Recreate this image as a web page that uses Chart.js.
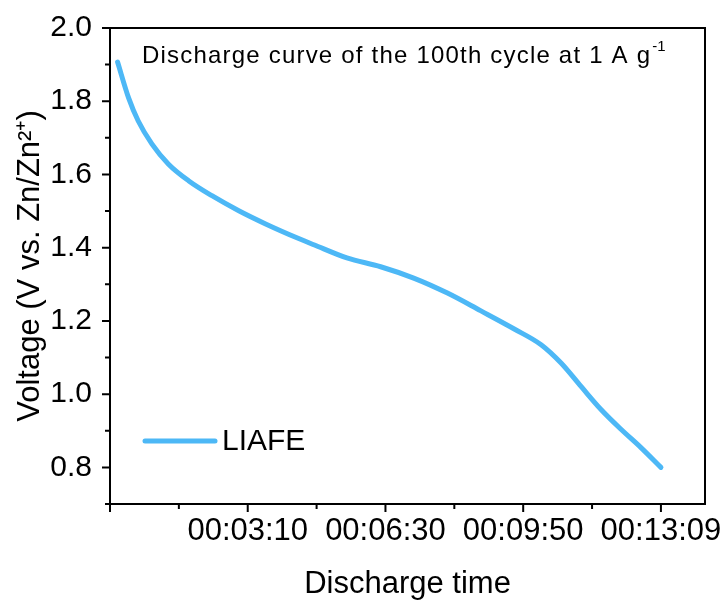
<!DOCTYPE html>
<html lang="en">
<head>
<meta charset="UTF-8">
<title>Discharge curve</title>
<script src="https://cdn.jsdelivr.net/npm/chart.js"></script>
<style>
  html, body { margin: 0; padding: 0; background: #fff; }
  #wrap { width: 723px; height: 600px; }
</style>
</head>
<body>
<div id="wrap"><canvas id="grafico"></canvas></div>
<script>
// values (time in seconds, voltage in V)
const times = [1, 17, 31, 51, 75, 104, 138, 177, 216, 264, 286, 334, 383, 431, 480, 528, 577, 616, 645, 674, 703, 732, 761, 790];
const voltages = [1.907, 1.809, 1.746, 1.683, 1.628, 1.583, 1.542, 1.501, 1.465, 1.425, 1.408, 1.372, 1.348, 1.317, 1.276, 1.228, 1.178, 1.135, 1.085, 1.021, 0.958, 0.904, 0.854, 0.800];
const xTickValues = [-10, 190, 390, 590, 790];
const xTickLabels = ['', '00:03:10', '00:06:30', '00:09:50', '00:13:09'];
const yTickValues = [0.8, 1.0, 1.2, 1.4, 1.6, 1.8, 2.0];
const seriesName = 'LIAFE';
const titleMain = 'Discharge curve of the 100th cycle at 1 A g';
const titleSup = '-1';

const lineColor = '#4db8f6';
const fontFam = "'Liberation Sans', Arial, sans-serif";
Chart.defaults.font.family = fontFam;
Chart.defaults.color = '#000';

// frame, tick marks (major + minor), inner title and legend
const decor = {
    id: 'decor',
    afterDraw(chart) {
        const ctx = chart.ctx;
        const a = chart.chartArea;
        const xs = chart.scales.x, ys = chart.scales.y;
        ctx.save();
        ctx.strokeStyle = '#000';
        ctx.lineWidth = 2;
        ctx.strokeRect(a.left, a.top, a.right - a.left, a.bottom - a.top);

        // x ticks
        ctx.beginPath();
        for (let i = 0; i < xTickValues.length; i++) {
            const px = xs.getPixelForValue(xTickValues[i]);
            ctx.moveTo(px, a.bottom); ctx.lineTo(px, a.bottom + 8);
            const mid = xTickValues[i] + 100;
            if (mid < xs.max) {
                const pm = xs.getPixelForValue(mid);
                ctx.moveTo(pm, a.bottom); ctx.lineTo(pm, a.bottom + 5);
            }
        }
        // y ticks
        for (let i = 0; i < yTickValues.length; i++) {
            const py = ys.getPixelForValue(yTickValues[i]);
            ctx.moveTo(a.left, py); ctx.lineTo(a.left - 8, py);
            const mid = yTickValues[i] - 0.1;
            if (mid > ys.min) {
                const pm = ys.getPixelForValue(mid);
                ctx.moveTo(a.left, pm); ctx.lineTo(a.left - 5, pm);
            }
        }
        ctx.stroke();

        // title inside plot
        ctx.fillStyle = '#000';
        ctx.textBaseline = 'alphabetic';
        ctx.textAlign = 'left';
        ctx.letterSpacing = '1.2px';
        ctx.font = '24px ' + fontFam;
        const tx = a.left + 32, ty = a.top + 35;
        ctx.fillText(titleMain, tx, ty);
        const w = ctx.measureText(titleMain).width;
        ctx.letterSpacing = '0px';
        ctx.font = '15px ' + fontFam;
        ctx.fillText(titleSup, tx + w + 1, ty - 12);

        // legend
        const ly = ys.getPixelForValue(0.872);
        const lx = a.left + 35;
        ctx.strokeStyle = lineColor;
        ctx.lineWidth = 5;
        ctx.lineCap = 'round';
        ctx.beginPath();
        ctx.moveTo(lx, ly); ctx.lineTo(lx + 70, ly);
        ctx.stroke();
        ctx.font = '30px ' + fontFam;
        ctx.textBaseline = 'middle';
        ctx.fillText(seriesName, lx + 77, ly + 1);
        ctx.restore();
    }
};

const ctx = document.getElementById('grafico').getContext('2d');
new Chart(ctx, {
    type: 'line',
    data: {
        datasets: [{
            label: seriesName,
            data: times.map((t, i) => ({ x: t, y: voltages[i] })),
            borderColor: lineColor,
            borderWidth: 5,
            borderCapStyle: 'round',
            pointRadius: 0,
            cubicInterpolationMode: 'monotone',
            fill: false
        }]
    },
    options: {
        responsive: true,
        maintainAspectRatio: false,
        animation: false,
        layout: { padding: { left: 0, top: 28, right: 18, bottom: 0 } },
        plugins: { legend: { display: false }, tooltip: { enabled: false } },
        scales: {
            x: {
                type: 'linear',
                min: -10,
                max: 854,
                grid: { display: false, drawTicks: false },
                border: { display: false },
                afterBuildTicks: s => { s.ticks = xTickValues.map(v => ({ value: v })); },
                afterFit: s => { s.height = 96; s.paddingLeft = 0; s.paddingRight = 0; },
                ticks: {
                    autoSkip: false,
                    maxRotation: 0,
                    padding: 9,
                    font: { size: 31 },
                    callback: (v) => xTickLabels[xTickValues.indexOf(v)]
                },
                title: {
                    display: true,
                    text: 'Discharge time',
                    font: { size: 31, lineHeight: 1 },
                    padding: { top: 0, bottom: 0 }
                }
            },
            y: {
                min: 0.7,
                max: 2.0,
                grid: { display: false, drawTicks: false },
                border: { display: false },
                afterBuildTicks: s => { s.ticks = yTickValues.map(v => ({ value: v })); },
                afterFit: s => { s.width = 110; s.paddingTop = 0; s.paddingBottom = 0; },
                ticks: {
                    padding: 18,
                    font: { size: 30 },
                    callback: v => v.toFixed(1)
                },
                title: {
                    display: true,
                    text: 'Voltage (V vs. Zn/Zn²⁺)',
                    font: { size: 31 },
                    padding: { top: 12, bottom: 0 }
                }
            }
        }
    },
    plugins: [decor]
});
</script>
</body>
</html>
